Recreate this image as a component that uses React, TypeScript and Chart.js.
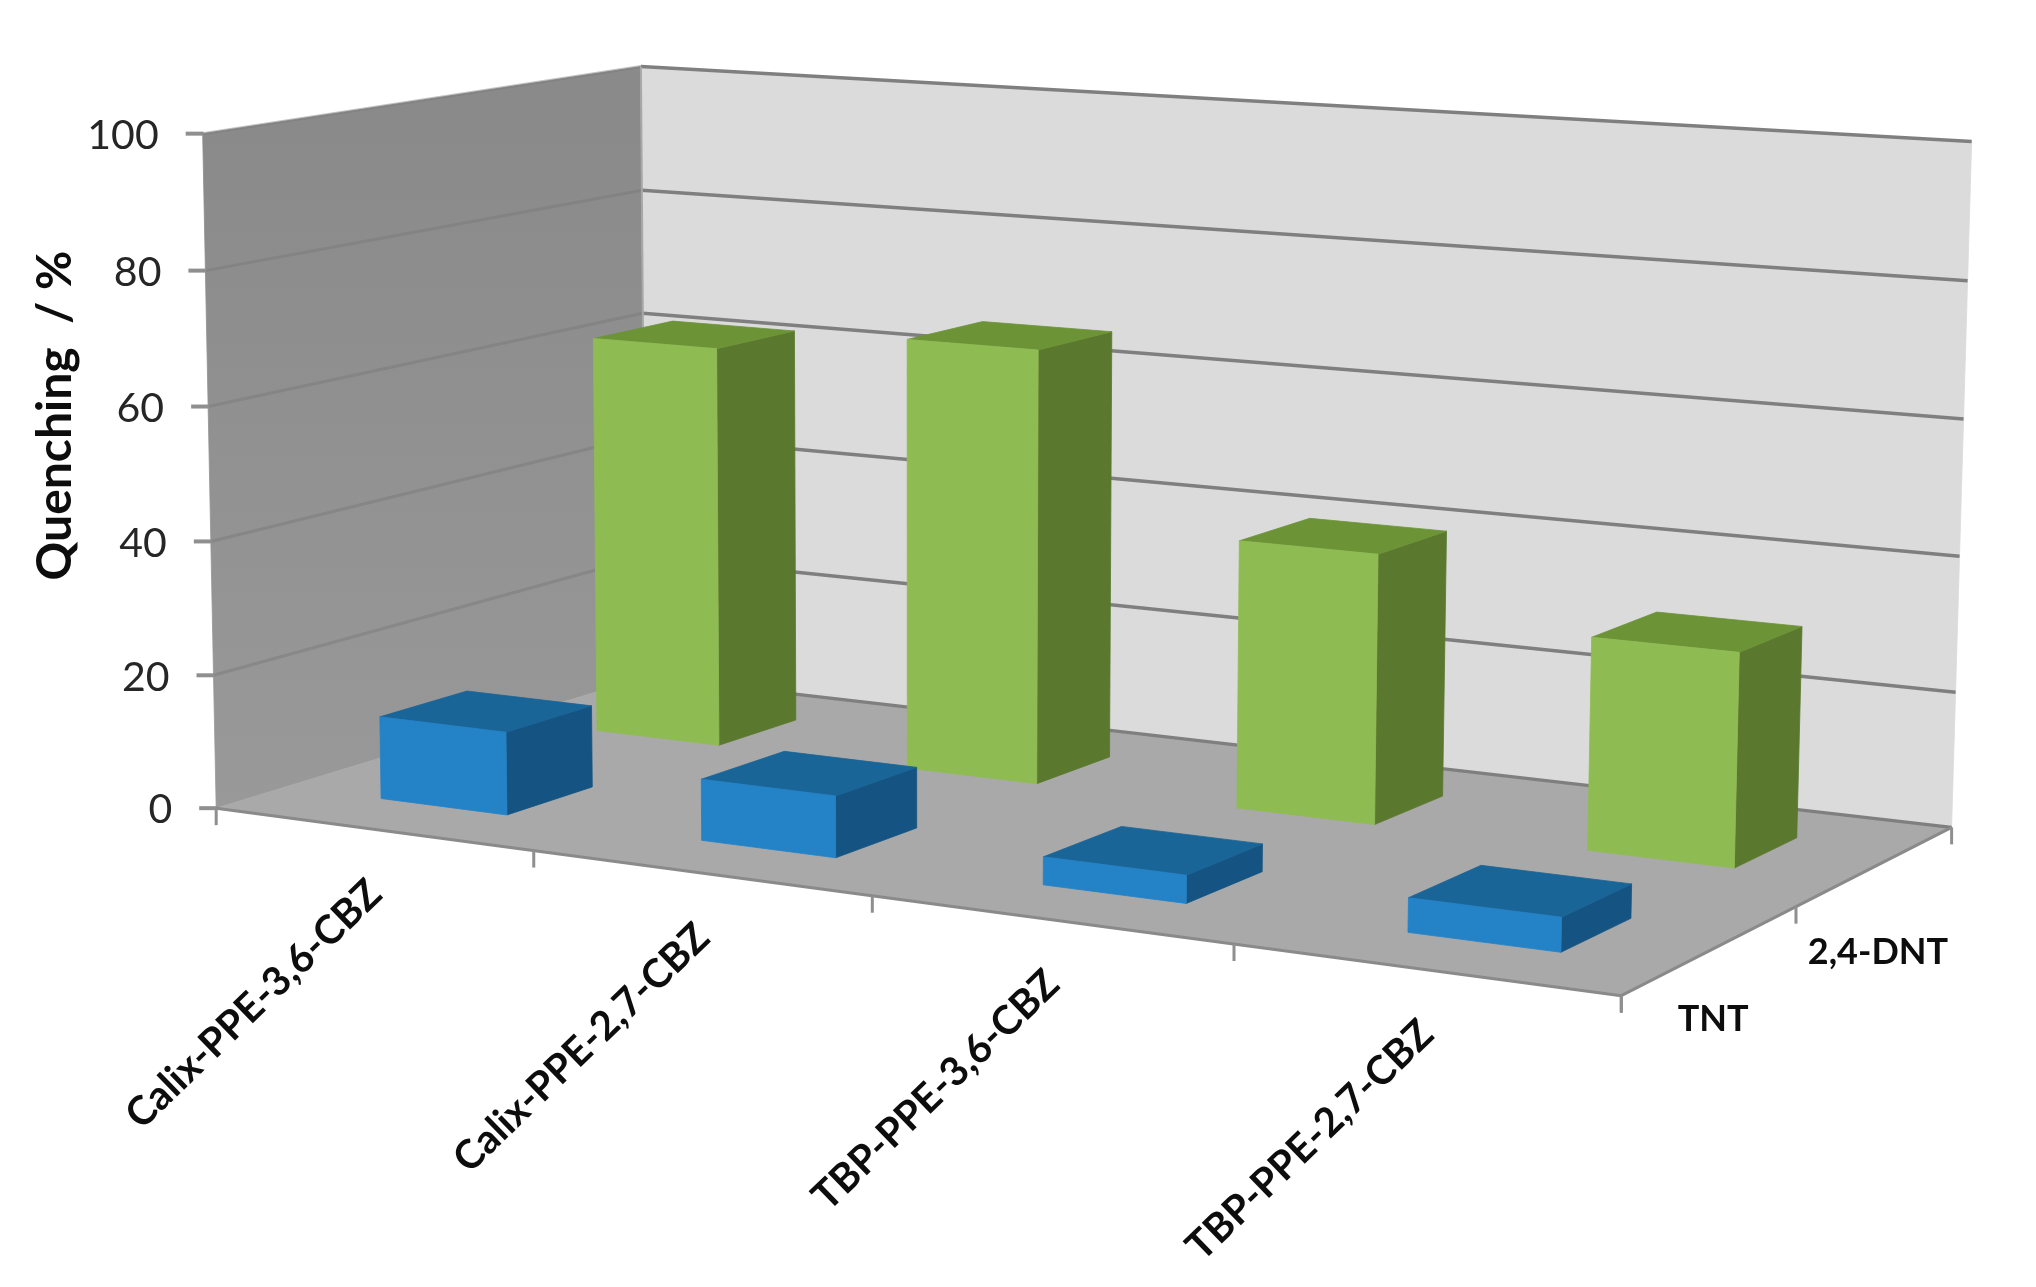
import React, { useEffect, useRef } from "react";
import { Chart, registerables } from "chart.js";

Chart.register(...registerables);

const categories = ["Calix-PPE-3,6-CBZ", "Calix-PPE-2,7-CBZ", "TBP-PPE-3,6-CBZ", "TBP-PPE-2,7-CBZ"];
const tntValues = [12.4, 9, 4, 4.8];
const dntValues = [62, 65.8, 40, 31];
const seriesNames = ["TNT", "2,4-DNT"];
const yTicks = [0, 20, 40, 60, 80, 100];

const W = 2036;
const H = 1287;
const AREA = { left: 218, right: 1952, top: 132, bottom: 805 };
const BAR_W = 0.4; // fraction of a category
const BAR_D = 0.39; // fraction of a series row
const BAR_U_SHIFT = 0.001;
const FONT = "Lato";

// camera calibration: [u, y, v] in the unit cube -> screen
const CALIB: [number[], number[]][] = [
  [[0, 0, 0], [218, 801]],
  [[0, 1, 0], [201, 134]],
  [[0, 1, 1], [643, 65]],
  [[0, 0, 1], [643, 684]],
  [[1, 0, 0], [1619, 1001]],
  [[1, 0, 1], [1952, 820]],
  [[1, 1, 1], [1971, 143]],
  [[0.25, 0, 0], [534, 850]],
  [[0.5, 0, 0], [873, 897]],
  [[0.75, 0, 0], [1234, 946]],
  [[1, 0, 0.5], [1798, 906]],
];

function solve(A: number[][], b: number[]) {
  const n = b.length;
  const M = A.map((r, i) => [...r, b[i]]);
  for (let c = 0; c < n; c++) {
    let p = c;
    for (let r = c + 1; r < n; r++) if (Math.abs(M[r][c]) > Math.abs(M[p][c])) p = r;
    [M[c], M[p]] = [M[p], M[c]];
    for (let r = 0; r < n; r++) {
      if (r === c) continue;
      const f = M[r][c] / M[c][c];
      for (let k = c; k <= n; k++) M[r][k] -= f * M[c][k];
    }
  }
  return M.map((r, i) => r[n] / r[i]);
}

function fitCamera() {
  const rows: number[][] = [];
  const rhs: number[] = [];
  for (const [[u, y, v], [sx0, sy0]] of CALIB) {
    const sx = sx0 / 1000;
    const sy = sy0 / 1000;
    rows.push([u, y, v, 1, 0, 0, 0, 0, -sx * u, -sx * y, -sx * v]);
    rhs.push(sx);
    rows.push([0, 0, 0, 0, u, y, v, 1, -sy * u, -sy * y, -sy * v]);
    rhs.push(sy);
  }
  const N = 11;
  const A = Array.from({ length: N }, (_, i) =>
    Array.from({ length: N }, (_, j) => rows.reduce((s, r) => s + r[i] * r[j], 0))
  );
  const b = Array.from({ length: N }, (_, i) => rows.reduce((s, r, k) => s + r[i] * rhs[k], 0));
  const p = solve(A, b);
  return (u: number, y: number, v: number): [number, number] => {
    const w = p[8] * u + p[9] * y + p[10] * v + 1;
    return [
      (1000 * (p[0] * u + p[1] * y + p[2] * v + p[3])) / w,
      (1000 * (p[4] * u + p[5] * y + p[6] * v + p[7])) / w,
    ];
  };
}
const cam = fitCamera();

function poly(ctx: CanvasRenderingContext2D, pts: [number, number][], fill: string | CanvasGradient) {
  ctx.beginPath();
  pts.forEach((p, i) => (i ? ctx.lineTo(p[0], p[1]) : ctx.moveTo(p[0], p[1])));
  ctx.closePath();
  ctx.fillStyle = fill;
  ctx.fill();
  ctx.strokeStyle = fill;
  ctx.lineWidth = 0.8;
  ctx.stroke();
}

function seg(ctx: CanvasRenderingContext2D, a: [number, number], b: [number, number], color: string, w: number) {
  ctx.beginPath();
  ctx.moveTo(a[0], a[1]);
  ctx.lineTo(b[0], b[1]);
  ctx.strokeStyle = color;
  ctx.lineWidth = w;
  ctx.stroke();
}

const uOfX = (chart: any, px: number) => (px - chart.chartArea.left) / (chart.chartArea.right - chart.chartArea.left);
const yOfPx = (chart: any, py: number) => (chart.chartArea.bottom - py) / (chart.chartArea.bottom - chart.chartArea.top);

const scene = {
  id: "scene3d",
  beforeDraw(chart: any) {
    const ctx = chart.ctx as CanvasRenderingContext2D;
    const yS = chart.scales.y;
    const xS = chart.scales.x;
    const a = chart.chartArea;
    // tick labels follow the slanted edges
    yS.getLabelItems(a).forEach((it: any, i: number) => {
      const f = yOfPx(chart, yS.getPixelForTick(i));
      const p = cam(0, f, 0);
      it.options.translation = [p[0] - 44, p[1] + 2];
    });
    xS.getLabelItems(a).forEach((it: any, i: number) => {
      const p = cam(uOfX(chart, xS.getPixelForTick(i)), 0, 0);
      it.options.translation = [p[0] - 14, p[1] + 41];
    });
    if (!yS.__shifted) {
      const orig = yS.drawTitle.bind(yS);
      yS.drawTitle = () => {
        ctx.save();
        ctx.translate(0, -53);
        orig();
        ctx.restore();
      };
      yS.__shifted = true;
    }
    ctx.save();
    ctx.lineCap = "butt";
    // walls
    const grad = ctx.createLinearGradient(0, a.top, 0, a.bottom);
    grad.addColorStop(0, "#8a8a8a");
    grad.addColorStop(1, "#999999");
    poly(ctx, [cam(0, 0, 0), cam(0, 1, 0), cam(0, 1, 1), cam(0, 0, 1)], grad);
    poly(ctx, [cam(0, 0, 1), cam(0, 1, 1), cam(1, 1, 1), cam(1, 0, 1)], "#dbdbdb");
    poly(ctx, [cam(0, 0, 0), cam(0, 0, 1), cam(1, 0, 1), cam(1, 0, 0)], "#a9a9a9");
    // grid lines
    yS.ticks.forEach((t: any) => {
      const f = yOfPx(chart, yS.getPixelForValue(t.value));
      if (f > 0) seg(ctx, cam(0, f, 0), cam(0, f, 1), "rgba(120,120,120,0.45)", 3);
      seg(ctx, cam(0, f, 1), cam(1, f, 1), "#7f7f7f", 3.5);
      const p = cam(0, f, 0);
      seg(ctx, [p[0] - 17, p[1]], [p[0] + 1, p[1]], "#8f8f8f", 4);
    });
    seg(ctx, cam(0, 0, 1), cam(0, 1, 1), "#a8a8a8", 2);
    // floor edges and axis ticks
    seg(ctx, cam(0, 0, 0), cam(1, 0, 0), "#8a8a8a", 3);
    seg(ctx, cam(1, 0, 0), cam(1, 0, 1), "#8a8a8a", 3);
    for (let i = 0; i <= categories.length; i++) {
      const p = cam(i / categories.length, 0, 0);
      seg(ctx, p, [p[0], p[1] + 17], "#8f8f8f", 3);
    }
    for (let i = 0; i <= seriesNames.length; i++) {
      const p = cam(1, 0, i / seriesNames.length);
      seg(ctx, p, [p[0], p[1] + 17], "#8f8f8f", 3);
    }
    ctx.restore();
  },
  beforeDatasetDraw(chart: any, args: any) {
    const ctx = chart.ctx as CanvasRenderingContext2D;
    const ds = chart.data.datasets[args.index];
    const xS = chart.scales.x;
    const yS = chart.scales.y;
    const halfU = (BAR_W / categories.length) / 2;
    const halfV = (BAR_D / seriesNames.length) / 2;
    const vc = (args.index + 0.5) / seriesNames.length;
    ctx.save();
    ds.data.forEach((val: number, j: number) => {
      const uc = uOfX(chart, xS.getPixelForValue(j)) + BAR_U_SHIFT;
      const h = yOfPx(chart, yS.getPixelForValue(val));
      const u0 = uc - halfU;
      const u1 = uc + halfU;
      const v0 = vc - halfV;
      const v1 = vc + halfV;
      poly(ctx, [cam(u1, 0, v0), cam(u1, 0, v1), cam(u1, h, v1), cam(u1, h, v0)], ds.sideColor);
      poly(ctx, [cam(u0, h, v0), cam(u1, h, v0), cam(u1, h, v1), cam(u0, h, v1)], ds.topColor);
      poly(ctx, [cam(u0, 0, v0), cam(u1, 0, v0), cam(u1, h, v0), cam(u0, h, v0)], ds.backgroundColor);
    });
    ctx.restore();
    return false;
  },
  afterDraw(chart: any) {
    const ctx = chart.ctx as CanvasRenderingContext2D;
    ctx.save();
    ctx.font = `bold 36px ${FONT}`;
    ctx.fillStyle = "#0d0d0d";
    ctx.textAlign = "center";
    ctx.textBaseline = "middle";
    seriesNames.forEach((name, i) => {
      const p = cam(1, 0, (i + 0.5) / seriesNames.length);
      ctx.fillText(name, p[0] + 2, p[1] + 70 + i * 16);
    });
    ctx.restore();
  },
};

export default function App() {
  const ref = useRef<HTMLCanvasElement | null>(null);
  useEffect(() => {
    const chart = new Chart(ref.current as HTMLCanvasElement, {
      type: "bar",
      data: {
        labels: categories,
        datasets: [
          { label: seriesNames[0], data: tntValues, backgroundColor: "#2482c6", topColor: "#196598", sideColor: "#155482" } as any,
          { label: seriesNames[1], data: dntValues, backgroundColor: "#8fbb53", topColor: "#6c9437", sideColor: "#5a782e" } as any,
        ],
      },
      options: {
        responsive: false,
        animation: false,
        layout: { padding: { top: AREA.top, right: W - AREA.right, left: 0, bottom: 0 } },
        plugins: { legend: { display: false }, tooltip: { enabled: false } },
        scales: {
          x: {
            grid: { display: false },
            border: { display: false },
            ticks: {
              autoSkip: false,
              minRotation: 44,
              maxRotation: 44,
              color: "#0d0d0d",
              font: { family: FONT, size: 40, weight: "bold" },
            },
            afterFit: (s: any) => {
              s.height = H - AREA.bottom;
              s.paddingLeft = 0;
              s.paddingRight = 0;
            },
          },
          y: {
            min: 0,
            max: 100,
            afterBuildTicks: (s: any) => {
              s.ticks = yTicks.map((value) => ({ value }));
            },
            grid: { display: false },
            border: { display: false },
            ticks: { color: "#262626", font: { family: FONT, size: 41 } },
            title: {
              display: true,
              text: "Quenching  / %",
              color: "#0d0d0d",
              font: { family: FONT, size: 48, weight: "bold" },
              padding: { top: 27, bottom: 0 },
            },
            afterFit: (s: any) => {
              s.width = AREA.left;
              s.paddingTop = 0;
              s.paddingBottom = 0;
            },
          },
        },
      } as any,
      plugins: [scene as any],
    });
    return () => chart.destroy();
  }, []);
  return (
    <div style={{ position: "absolute", left: 0, top: 0, width: W, height: H, background: "#fff" }}>
      <canvas ref={ref} width={W} height={H} style={{ display: "block", filter: "blur(0.6px)" }} />
    </div>
  );
}
